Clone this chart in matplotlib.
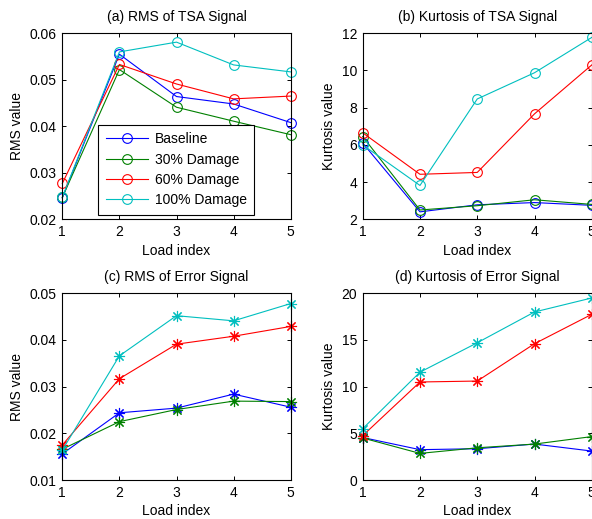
import matplotlib
matplotlib.use("Agg")
import matplotlib.pyplot as plt
import numpy as np

plt.rcParams['font.family'] = ['Liberation Sans', 'DejaVu Sans']

load_index = [1, 2, 3, 4, 5]
series_names = ['Baseline', '30% Damage', '60% Damage', '100% Damage']
colors = ['#0000ff', '#008000', '#ff0000', '#00bfbf']

# (a) RMS of TSA Signal
rms_tsa_baseline = [0.0246, 0.0555, 0.0464, 0.0448, 0.0408]
rms_tsa_30 = [0.0247, 0.0522, 0.0441, 0.0411, 0.0382]
rms_tsa_60 = [0.0277, 0.0533, 0.0491, 0.0459, 0.0465]
rms_tsa_100 = [0.0247, 0.0560, 0.0581, 0.0532, 0.0517]

# (b) Kurtosis of TSA Signal
kurt_tsa_baseline = [6.10, 2.40, 2.78, 2.90, 2.75]
kurt_tsa_30 = [6.45, 2.50, 2.73, 3.05, 2.80]
kurt_tsa_60 = [6.65, 4.42, 4.52, 7.67, 10.30]
kurt_tsa_100 = [6.00, 3.82, 8.47, 9.88, 11.78]

# (c) RMS of Error Signal
rms_err_baseline = [0.0156, 0.0244, 0.0254, 0.0284, 0.0256]
rms_err_30 = [0.0166, 0.0225, 0.0251, 0.0269, 0.0268]
rms_err_60 = [0.0175, 0.0317, 0.0391, 0.0408, 0.0429]
rms_err_100 = [0.0164, 0.0366, 0.0452, 0.0441, 0.0478]

# (d) Kurtosis of Error Signal
kurt_err_baseline = [4.55, 3.25, 3.35, 3.85, 3.10]
kurt_err_30 = [4.50, 2.85, 3.45, 3.85, 4.65]
kurt_err_60 = [4.75, 10.50, 10.60, 14.60, 17.75]
kurt_err_100 = [5.50, 11.55, 14.70, 18.00, 19.50]

titles = ['(a) RMS of TSA Signal', '(b) Kurtosis of TSA Signal',
          '(c) RMS of Error Signal', '(d) Kurtosis of Error Signal']
ylabels = ['RMS value', 'Kurtosis value', 'RMS value', 'Kurtosis value']
yticks_a = [0.02, 0.03, 0.04, 0.05, 0.06]
yticks_b = [2, 4, 6, 8, 10, 12]
yticks_c = [0.01, 0.02, 0.03, 0.04, 0.05]
yticks_d = [0, 5, 10, 15, 20]

W, H = 592, 519
fig = plt.figure(figsize=(W / 100, H / 100), dpi=100)

def px_axes(left, top, right, bottom):
    return fig.add_axes([left / W, (H - bottom) / H, (right - left) / W, (bottom - top) / H])

ax_a = px_axes(62.3, 33.3, 290.7, 219.3)
ax_b = px_axes(362.7, 33.3, 591.8, 219.3)
ax_c = px_axes(62.3, 293.3, 290.7, 480.0)
ax_d = px_axes(362.7, 293.3, 591.8, 480.0)

panels = [
    (ax_a, [rms_tsa_baseline, rms_tsa_30, rms_tsa_60, rms_tsa_100], 'o', yticks_a, '%.2f'),
    (ax_b, [kurt_tsa_baseline, kurt_tsa_30, kurt_tsa_60, kurt_tsa_100], 'o', yticks_b, '%d'),
    (ax_c, [rms_err_baseline, rms_err_30, rms_err_60, rms_err_100], (8, 2, 0), yticks_c, '%.2f'),
    (ax_d, [kurt_err_baseline, kurt_err_30, kurt_err_60, kurt_err_100], (8, 2, 0), yticks_d, '%d'),
]

for i, (ax, data, marker, yt, fmt) in enumerate(panels):
    for vals, col, name in zip(data, colors, series_names):
        if marker == 'o':
            ax.plot(load_index, vals, color=col, lw=0.8, marker='o', ms=7,
                    mfc='none', mec=col, mew=0.8, label=name, clip_on=False)
        else:
            ax.plot(load_index, vals, color=col, lw=0.8, marker=marker, ms=8,
                    mec=col, mew=0.8, label=name, clip_on=False)
    ax.set_xlim(1, 5)
    ax.set_ylim(yt[0], yt[-1])
    ax.set_xticks(load_index)
    ax.set_yticks(yt)
    ax.set_yticklabels([fmt % v for v in yt])
    ax.tick_params(direction='in', length=3, width=0.7, top=True, right=True,
                   labelsize=10, pad=4)
    for s in ax.spines.values():
        s.set_linewidth(0.8)
    ax.set_title(titles[i], fontsize=10, pad=8.5)
    ax.set_xlabel('Load index', fontsize=10, labelpad=3.5)
    ax.set_ylabel(ylabels[i], fontsize=10, labelpad=4)

leg = ax_a.legend(loc='lower left', bbox_to_anchor=(0.158, 0.025), borderaxespad=0,
                  fontsize=10, frameon=True, fancybox=False, framealpha=1,
                  edgecolor='black', handlelength=3.0, handletextpad=0.5,
                  labelspacing=0.45, borderpad=0.55)
leg.get_frame().set_linewidth(0.8)

fig.savefig('out.png', dpi=100)
